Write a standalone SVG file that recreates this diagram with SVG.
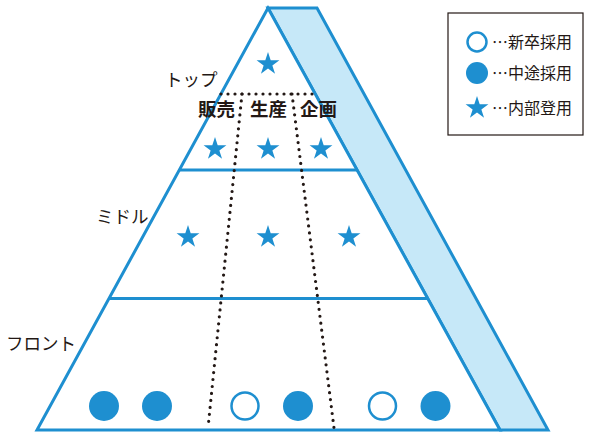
<svg xmlns="http://www.w3.org/2000/svg" width="589" height="432" viewBox="0 0 589 432">
<style>
.ln{fill:none;stroke:#1e8fd0;stroke-width:3;stroke-linejoin:miter}
.dot{fill:none;stroke:#231815;stroke-width:3.2;stroke-linecap:round;stroke-dasharray:0 7}
.lbl{font-family:"Noto Sans CJK JP","Noto Sans",sans-serif;font-size:17.5px;fill:#231815}
.dept{font-family:"Noto Sans CJK JP","Noto Sans",sans-serif;font-size:18.5px;font-weight:bold;fill:#231815;text-anchor:middle}
.leg{font-family:"Noto Sans CJK JP","Noto Sans",sans-serif;font-size:16px;fill:#231815}
.fill{fill:#1e8fd0}
.open{fill:#fff;stroke:#1e8fd0;stroke-width:2.5}
</style>
<defs>
<path id="star" class="fill" d="M0,-12 L2.70,-3.72 L11.41,-3.71 L4.37,1.42 L7.05,9.71 L0,4.6 L-7.05,9.71 L-4.37,1.42 L-11.41,-3.71 L-2.70,-3.72 Z"/>
</defs>
<rect width="589" height="432" fill="#fff"/>
<g id="band">
<path d="M268,8 L317,8 L548,430 L500,430 Z" fill="#c6e8f8" stroke="#1e8fd0" stroke-width="3" stroke-linejoin="miter"/>
</g>
<g id="pyramid">
<path class="ln" d="M268,8 L37,430 L500,430 Z" style="fill:#fff"/>
<line class="ln" x1="179" y1="170" x2="357" y2="170"/>
<line class="ln" x1="109" y1="298.5" x2="428" y2="298.5"/>
</g>
<g id="connectors">
<path class="dot" d="M221,94 H315"/>
<path class="dot" d="M242,94 L208,428"/>
<path class="dot" d="M292,94 L334,428"/>
</g>
<g id="top-tier">
<use href="#star" x="268" y="64"/>
<use href="#star" x="215" y="149"/>
<use href="#star" x="268" y="149"/>
<use href="#star" x="321" y="149"/>
<text class="lbl" x="165" y="86">トップ</text>
</g>
<g id="departments">
<text class="dept" x="216.5" y="115.5">販売</text>
<text class="dept" x="268.5" y="115.5">生産</text>
<text class="dept" x="318.5" y="115.5">企画</text>
</g>
<g id="middle-tier">
<use href="#star" x="188" y="237"/>
<use href="#star" x="268" y="237"/>
<use href="#star" x="349" y="237"/>
<text class="lbl" x="96" y="223">ミドル</text>
</g>
<g id="front-tier">
<circle class="fill" cx="104" cy="406" r="15"/>
<circle class="fill" cx="157" cy="406" r="15"/>
<circle class="open" cx="245" cy="406" r="13.5"/>
<circle class="fill" cx="298" cy="406" r="15"/>
<circle class="open" cx="382.5" cy="406" r="13.5"/>
<circle class="fill" cx="435.5" cy="406" r="15"/>
<text class="lbl" x="6" y="350">フロント</text>
</g>
<g id="legend">
<rect x="448" y="13" width="135" height="122" fill="#fff" stroke="#231815" stroke-width="1.2"/>
<circle class="open" cx="477" cy="42" r="9.5"/>
<text class="leg" x="492" y="48">…新卒採用</text>
<circle class="fill" cx="477" cy="73" r="11"/>
<text class="leg" x="492" y="79">…中途採用</text>
<use href="#star" x="477" y="108"/>
<text class="leg" x="492" y="114">…内部登用</text>
</g>
</svg>
